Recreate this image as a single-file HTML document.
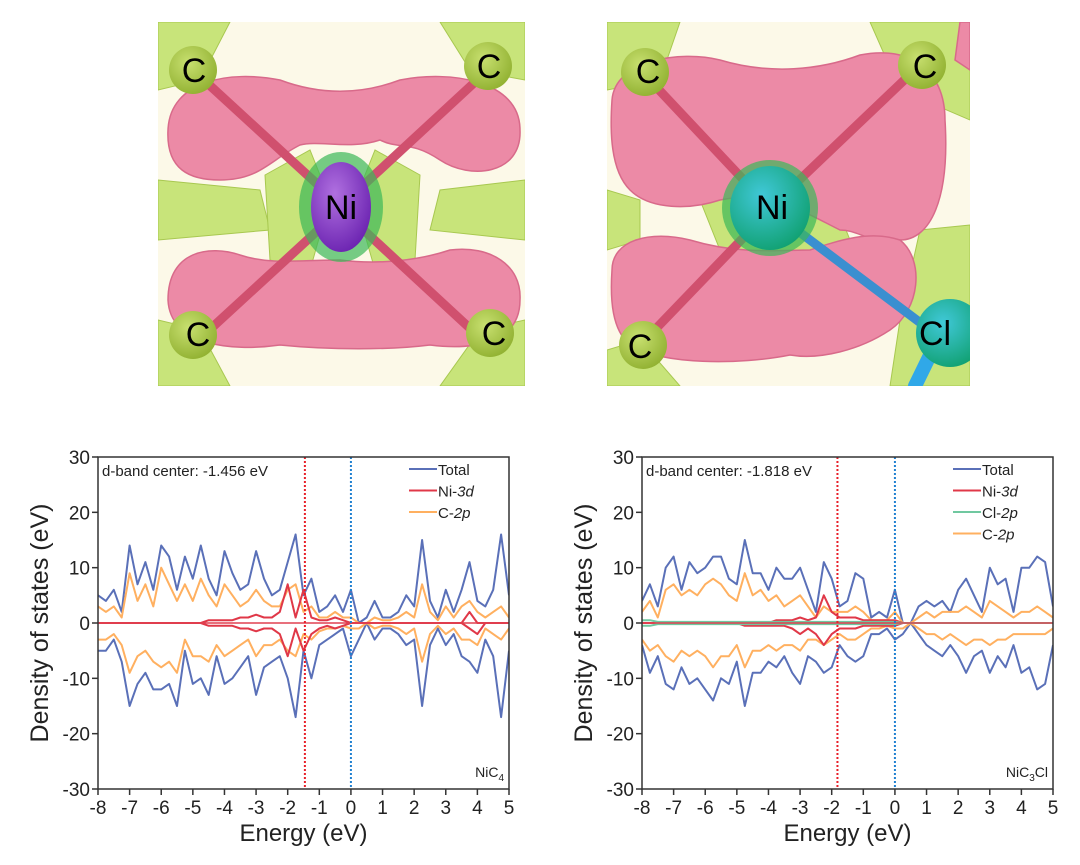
<!DOCTYPE html>
<html><head><meta charset="utf-8">
<style>
body{margin:0;background:#fff;width:1080px;height:865px;overflow:hidden;font-family:"Liberation Sans",sans-serif;}
svg{position:absolute;left:0;top:0}
</style></head>
<body>
<svg width="1080" height="865" viewBox="0 0 1080 865">
<defs>
<radialGradient id="niA" cx="0.4" cy="0.35" r="0.7"><stop offset="0" stop-color="#b070e0"/><stop offset="1" stop-color="#6a22b0"/></radialGradient>
<radialGradient id="niB" cx="0.4" cy="0.35" r="0.7"><stop offset="0" stop-color="#40c8d8"/><stop offset="1" stop-color="#10a070"/></radialGradient>
<radialGradient id="cb" cx="0.4" cy="0.35" r="0.7"><stop offset="0" stop-color="#c8e070"/><stop offset="1" stop-color="#90b030"/></radialGradient>
<clipPath id="clipA"><rect x="158" y="22" width="367" height="364"/></clipPath>
<clipPath id="clipB"><rect x="607" y="22" width="363" height="364"/></clipPath>
</defs>

<g clip-path="url(#clipA)">
<rect x="158" y="22" width="367" height="364" fill="#fcf9e8"/>
<g fill="#c8e47a" stroke="#a8c850" stroke-width="1">
<path d="M158,22 L230,22 L200,80 L158,90Z"/><path d="M440,22 L525,22 L525,80 L470,70Z"/>
<path d="M158,180 L260,190 L270,230 L158,240Z"/><path d="M525,180 L440,190 L430,230 L525,240Z"/>
<path d="M158,320 L200,330 L230,386 L158,386Z"/><path d="M525,320 L480,330 L440,386 L525,386Z"/>
<path d="M265,175 L310,150 L330,200 L310,270 L270,260Z"/><path d="M420,175 L375,150 L355,200 L375,270 L415,260Z"/>
</g>
<g fill="#ec8aa6" stroke="#d86a8a" stroke-width="1.5">
<path d="M168,130 C170,80 230,70 280,80 C320,95 360,95 400,80 C450,70 520,80 520,130 C522,175 470,180 440,160 C410,140 400,150 380,140 C350,150 320,140 300,145 C270,160 260,180 220,180 C190,180 166,170 168,130Z"/>
<path d="M168,300 C168,250 210,245 240,255 C270,265 300,260 340,260 C380,265 420,260 450,250 C490,245 522,265 520,300 C520,345 470,350 430,345 C390,350 330,350 280,345 C230,352 170,345 168,300Z"/>
</g>
<g stroke="#d0506e" stroke-width="9" stroke-linecap="round">
<line x1="193" y1="70" x2="340" y2="205"/><line x1="488" y1="70" x2="342" y2="205"/>
<line x1="193" y1="345" x2="340" y2="210"/><line x1="488" y1="345" x2="342" y2="210"/>
</g>
<ellipse cx="341" cy="207" rx="42" ry="55" fill="#3cb858" opacity="0.7"/>
<ellipse cx="341" cy="207" rx="30" ry="45" fill="url(#niA)"/>
<circle cx="193" cy="70" r="24" fill="url(#cb)"/><circle cx="488" cy="66" r="24" fill="url(#cb)"/>
<circle cx="193" cy="335" r="24" fill="url(#cb)"/><circle cx="490" cy="333" r="24" fill="url(#cb)"/>
<g font-size="34" fill="#000" text-anchor="middle">
<text x="194" y="82">C</text>
<text x="489" y="78">C</text>
<text x="198" y="346">C</text>
<text x="494" y="345">C</text>
<text x="341" y="219">Ni</text>
</g>
</g>

<g clip-path="url(#clipB)">
<rect x="607" y="22" width="363" height="364" fill="#fcf9e8"/>
<g fill="#c8e47a" stroke="#a8c850" stroke-width="1">
<path d="M607,22 L680,22 L660,80 L607,90Z"/><path d="M870,22 L970,22 L970,120 L900,90Z"/>
<path d="M607,190 L640,200 L640,240 L607,250Z"/><path d="M920,230 L970,225 L970,386 L890,386 L900,320Z"/>
<path d="M700,200 L760,175 L830,190 L850,240 L800,260 L720,250Z"/>
<path d="M607,350 L640,340 L680,386 L607,386Z"/>
</g>
<g fill="#ec8aa6" stroke="#d86a8a" stroke-width="1.5">
<path d="M612,100 C615,60 680,50 720,60 C770,75 820,70 860,55 C910,45 945,70 945,120 C950,200 930,240 900,240 C870,245 860,230 840,230 C800,210 770,190 720,200 C690,210 650,210 630,190 C610,170 610,130 612,100Z"/>
<path d="M612,270 C612,240 650,230 690,240 C740,255 780,250 810,250 C840,240 870,230 900,240 C925,260 920,310 890,330 C860,350 820,360 790,355 C740,365 660,365 630,345 C612,330 610,300 612,270Z"/>
<path d="M960,22 L970,22 L970,70 L955,60Z"/>
</g>
<g stroke-width="9" stroke-linecap="round">
<line x1="645" y1="75" x2="770" y2="208" stroke="#d0506e"/><line x1="920" y1="65" x2="770" y2="208" stroke="#d0506e"/>
<line x1="645" y1="340" x2="770" y2="210" stroke="#d0506e"/><line x1="770" y1="210" x2="930" y2="330" stroke="#3a8fd0"/>
<line x1="935" y1="345" x2="915" y2="386" stroke="#30a8e8" stroke-width="14"/>
</g>
<ellipse cx="770" cy="208" rx="48" ry="48" fill="#3cb858" opacity="0.7"/>
<ellipse cx="770" cy="208" rx="40" ry="42" fill="url(#niB)"/>
<circle cx="645" cy="72" r="24" fill="url(#cb)"/><circle cx="922" cy="65" r="24" fill="url(#cb)"/>
<circle cx="643" cy="345" r="24" fill="url(#cb)"/><circle cx="950" cy="333" r="34" fill="url(#niB)"/>
<g font-size="34" fill="#000" text-anchor="middle">
<text x="648" y="83">C</text>
<text x="925" y="78">C</text>
<text x="640" y="358">C</text>
<text x="935" y="345">Cl</text>
<text x="772" y="219">Ni</text>
</g>
</g>

<g id="chartA"></g>
<g id="chartB"></g>
</svg>

<script>
const energies=[-8,-7.75,-7.5,-7.25,-7,-6.75,-6.5,-6.25,-6,-5.75,-5.5,-5.25,-5,-4.75,-4.5,-4.25,-4,-3.75,-3.5,-3.25,-3,-2.75,-2.5,-2.25,-2,-1.75,-1.5,-1.25,-1,-0.75,-0.5,-0.25,0,0.25,0.5,0.75,1,1.25,1.5,1.75,2,2.25,2.5,2.75,3,3.25,3.5,3.75,4,4.25,4.5,4.75,5];
const xTicks=[-8,-7,-6,-5,-4,-3,-2,-1,0,1,2,3,4,5];
const yTicks=[-30,-20,-10,0,10,20,30];
const a_totalUp=[5,4,6,2,14,7,11,6,14,12,6,12,8,14,8,5,13,9,6,7,13,8,5,6,11,16,5,8,2,3,5,2,6,0,1,4,1,1,2,5,3,15,4,1,6,2,6,11,4,3,6,16,5];
const a_totalDn=[-5,-5,-3,-7,-15,-11,-9,-12,-12,-11,-15,-5,-11,-10,-13,-6,-11,-10,-8,-6,-13,-8,-7,-6,-10,-17,-5,-10,-4,-3,-2,-1,-6,-3,0,-3,-1,-1,-2,-4,-3,-15,-4,-1,-4,-2,-6,-7,-9,-3,-6,-17,-5];
const a_c2pUp=[3,2,3,1,9,4,7,3,10,7,4,7,4,8,5,3,7,5,3,4,6,4,3,3,6,7,2,3,1,1,2,1,1,0,0,1,0.5,0.5,1,2,1,7,2,0.5,3,1,3,4,2,1,2,3,1];
const a_c2pDn=[-3,-3,-2,-4,-9,-6,-5,-7,-8,-7,-9,-3,-6,-6,-7,-4,-6,-5,-4,-3,-6,-4,-4,-3,-5,-6,-2,-3,-1.5,-1,-1,-0.5,-1,-1,0,-1,-0.5,-0.5,-1,-2,-1,-7,-2,-0.5,-2,-1,-3,-3,-4,-1,-2,-3,-1];
const a_niUp=[0,0,0,0,0,0,0,0,0,0,0,0,0,0,0.5,0.5,0.5,0.5,1,1,1.5,1,1,2,7,1,6,1,0.5,0.5,1,0.5,0,0,0,0,0,0,0,0,0,0,0,0,0,0,0,2,0,0,0,0,0];
const a_niDn=[0,0,0,0,0,0,0,0,0,0,0,0,0,0,-0.5,-0.5,-0.5,-0.5,-1,-1,-1.5,-1,-1,-2,-6,-1,-5,-2,-1,-0.5,-1,-0.5,0,0,0,0,0,0,0,0,0,0,0,0,0,0,0,-1,-2,0,0,0,0];
const b_totalUp=[4,7,3,10,12,6,11,9,10,12,12,8,7,15,9,9,6,10,8,8,10,6,2,11,8,3,4,9,8,1,2,1,6,0,0,3,4,3,4,2,6,8,5,2,10,7,8,2,10,10,12,11,3];
const b_totalDn=[-4,-9,-6,-11,-12,-8,-11,-10,-12,-14,-10,-11,-7,-15,-9,-9,-7,-8,-6,-9,-11,-6,-7,-9,-8,-4,-6,-7,-6,-2,-2,-1,-3,-2,0,-2,-4,-5,-6,-4,-6,-9,-6,-5,-9,-6,-8,-4,-9,-8,-12,-11,-4];
const b_c2pUp=[2,4,1,6,7,5,6,5,7,8,7,5,4,9,5,6,4,5,3,4,5,3,1,3,2,2,2,3,2,0.5,0.5,0.5,2,0,0,1,2,1,2,2,2,3,2,1,4,3,2,1,2,2,3,2,1];
const b_c2pDn=[-3,-5,-4,-6,-7,-5,-6,-5,-6,-8,-6,-6,-4,-8,-5,-5,-4,-5,-4,-4,-5,-3,-3,-4,-3,-2,-3,-3,-2,-1,-1,-0.5,-1,-1,0,-1,-2,-2,-3,-2,-3,-4,-3,-3,-4,-3,-3,-2,-2,-2,-2,-2,-1];
const b_niUp=[0,0,0,0,0,0,0,0,0,0,0,0,0,0,0,0,0,0.5,0.5,0.5,1,0.5,1,5,2,1,1,1,0.5,0.5,0.5,0.5,0.5,0,0,0,0,0,0,0,0,0,0,0,0,0,0,0,0,0,0,0,0];
const b_niDn=[0,0,0,0,0,0,0,0,0,0,0,0,0,-0.5,-0.5,-0.5,-0.5,-0.5,-0.5,-1,-2,-1,-2,-4,-2,-1,-1,-1,-0.5,-0.5,-0.5,-0.5,-0.5,0,0,0,0,0,0,0,0,0,0,0,0,0,0,0,0,0,0,0,0];
const b_clUp=[0.5,0.5,0.2,0.2,0.2,0.2,0.2,0.2,0.2,0.2,0.2,0.2,0.2,0.2,0.2,0.2,0.2,0.2,0.2,0.2,0.2,0.2,0.2,0.2,0.2,0.2,0.2,0.2,0.2,0.2,0.2,0.2,0.2,0,0,0,0,0,0,0,0,0,0,0,0,0,0,0,0,0,0,0,0];
const b_clDn=[-0.5,-0.5,-0.2,-0.2,-0.2,-0.2,-0.2,-0.2,-0.2,-0.2,-0.2,-0.2,-0.2,-0.2,-0.2,-0.2,-0.2,-0.2,-0.2,-0.2,-0.2,-0.2,-0.2,-0.2,-0.2,-0.2,-0.2,-0.2,-0.2,-0.2,-0.2,-0.2,-0.2,0,0,0,0,0,0,0,0,0,0,0,0,0,0,0,0,0,0,0,0];
const dCenters=[-1.456,-1.818];

const NS='http://www.w3.org/2000/svg';
function mk(parent,tag,attrs){const e=document.createElementNS(NS,tag);for(const k in attrs)e.setAttribute(k,attrs[k]);parent.appendChild(e);return e;}
function drawChart(g,L,R,T,B,series,legend,dc,label,sub){
  const sx=v=>L+(v+8)/13*(R-L), sy=v=>T+(30-v)/60*(B-T);
  const clip=mk(g,'clipPath',{id:g.id+'c'});mk(clip,'rect',{x:L,y:T,width:R-L,height:B-T});
  const lines=mk(g,'g',{'clip-path':'url(#'+g.id+'c)'});
  series.forEach(s=>{
    const p=mk(lines,'path',{d:energies.map((e,i)=>(i?'L':'M')+sx(e).toFixed(1)+','+sy(s.v[i]).toFixed(1)).join(''),fill:'none',stroke:s.c,'stroke-width':2,'stroke-linejoin':'round'});
    
    
  });
  const zl=mk(g,'line',{x1:L,x2:R,y1:sy(0),y2:sy(0),stroke:'#e04050','stroke-width':1.5});
  
  
  const dl=mk(g,'line',{x1:sx(dc),x2:sx(dc),y1:T,y2:B,stroke:'#e8202a','stroke-width':2,'stroke-dasharray':'2,2'});
  
  
  const fl=mk(g,'line',{x1:sx(0),x2:sx(0),y1:T,y2:B,stroke:'#2080d0','stroke-width':2,'stroke-dasharray':'2,2'});
  
  
  const fr=mk(g,'rect',{x:L,y:T,width:R-L,height:B-T,fill:'none',stroke:'#333','stroke-width':1.5});
  
  
  xTicks.forEach(t=>{
    mk(g,'line',{x1:sx(t),x2:sx(t),y1:B,y2:B+6,stroke:'#333','stroke-width':1.5});
    const tx=mk(g,'text',{x:sx(t),y:B+25,'font-size':19,'text-anchor':'middle',fill:'#222'});tx.textContent=t;
    
    
  });
  yTicks.forEach(t=>{
    mk(g,'line',{x1:L-6,x2:L,y1:sy(t),y2:sy(t),stroke:'#333','stroke-width':1.5});
    const ty=mk(g,'text',{x:L-8,y:sy(t)+7,'font-size':19,'text-anchor':'end',fill:'#222'});ty.textContent=t;
    
    
  });
  const xt=mk(g,'text',{x:(L+R)/2,y:B+52,'font-size':24,'text-anchor':'middle',fill:'#222'});xt.textContent='Energy (eV)';
  
  
  const yt=mk(g,'text',{x:0,y:0,'font-size':25,'text-anchor':'middle',fill:'#222',transform:'translate('+(L-50)+','+((T+B)/2)+') rotate(-90)'});yt.textContent='Density of states (eV)';
  
  
  const dt=mk(g,'text',{x:L+4,y:T+19,'font-size':15,fill:'#222'});dt.textContent='d-band center: '+dc.toFixed(3)+' eV';
  
  
  legend.forEach((l,i)=>{
    const y=T+14+i*21.5;
    const lg=mk(g,'g',{});
    
    
    mk(lg,'line',{x1:R-100,x2:R-72,y1:y-2,y2:y-2,stroke:l.c,'stroke-width':2});
    const t=mk(lg,'text',{x:R-71,y:y+4,'font-size':15,fill:'#222'});
    t.innerHTML=l.h;
  });
  const st=mk(g,'text',{x:R-5,y:B-12,'font-size':14,'text-anchor':'end',fill:'#222'});
  st.innerHTML=label+'<tspan font-size="10" dy="4">'+sub[0]+'</tspan><tspan dy="-4">'+sub[1]+'</tspan>';
  
  
}
const BLUE='#5a70b8',RED='#e03848',ORG='#ffb060',GRN='#70c8a0';
drawChart(document.getElementById('chartA'),98,509,457,789,[
 {n:'total-up-line',v:a_totalUp,c:BLUE},{n:'total-down-line',v:a_totalDn,c:BLUE},
 {n:'c2p-up-line',v:a_c2pUp,c:ORG},{n:'c2p-down-line',v:a_c2pDn,c:ORG},
 {n:'ni3d-up-line',v:a_niUp,c:RED},{n:'ni3d-down-line',v:a_niDn,c:RED}],
 [{c:BLUE,h:'Total'},{c:RED,h:'Ni-<tspan font-style="italic">3d</tspan>'},{c:ORG,h:'C-<tspan font-style="italic">2p</tspan>'}],
 dCenters[0],'NiC',['4','']);
drawChart(document.getElementById('chartB'),642,1053,457,789,[
 {n:'total-up-line',v:b_totalUp,c:BLUE},{n:'total-down-line',v:b_totalDn,c:BLUE},
 {n:'c2p-up-line',v:b_c2pUp,c:ORG},{n:'c2p-down-line',v:b_c2pDn,c:ORG},
 {n:'ni3d-up-line',v:b_niUp,c:RED},{n:'ni3d-down-line',v:b_niDn,c:RED},
 {n:'cl2p-up-line',v:b_clUp,c:GRN},{n:'cl2p-down-line',v:b_clDn,c:GRN}],
 [{c:BLUE,h:'Total'},{c:RED,h:'Ni-<tspan font-style="italic">3d</tspan>'},{c:GRN,h:'Cl-<tspan font-style="italic">2p</tspan>'},{c:ORG,h:'C-<tspan font-style="italic">2p</tspan>'}],
 dCenters[1],'NiC',['3','Cl']);
</script>
</body></html>
